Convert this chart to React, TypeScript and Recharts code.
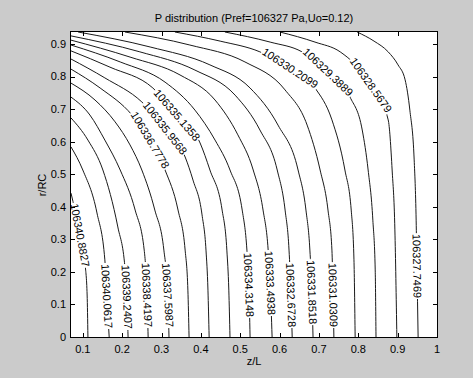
import { LineChart, Line, XAxis, YAxis } from 'recharts'

// axis ticks / ranges
const X_TICKS = [0.1, 0.2, 0.3, 0.4, 0.5, 0.6, 0.7, 0.8, 0.9, 1]
const Y_TICKS = [0, 0.1, 0.2, 0.3, 0.4, 0.5, 0.6, 0.7, 0.8, 0.9]
const Z_MIN = 0.07
const Z_MAX = 1
const R_MIN = 0
const R_MAX = 0.937

// contour levels (left to right at r = 0)
const LEVELS = [
  '106340.8827', '106340.0617', '106339.2407', '106338.4197', '106337.5987',
  '106336.7778', '106335.9568', '106335.1358', '106334.3148', '106333.4938',
  '106332.6728', '106331.8518', '106331.0309', '106330.2099', '106329.3889',
  '106328.5679', '106327.7469',
]

// traced contour paths: z/L values
const CONTOUR_Z = [
  [0.070, 0.080, 0.093, 0.106, 0.111, 0.113],
  [0.070, 0.100, 0.136, 0.156, 0.161, 0.167],
  [0.070, 0.113, 0.151, 0.189, 0.207, 0.212, 0.215],
  [0.070, 0.118, 0.156, 0.195, 0.233, 0.256, 0.263, 0.266],
  [0.070, 0.131, 0.182, 0.220, 0.250, 0.283, 0.306, 0.316, 0.319],
  [0.070, 0.144, 0.225, 0.271, 0.309, 0.342, 0.360, 0.367, 0.370],
  [0.070, 0.156, 0.250, 0.309, 0.360, 0.380, 0.403, 0.413, 0.418, 0.421],
  [0.070, 0.169, 0.278, 0.339, 0.398, 0.423, 0.454, 0.466, 0.471, 0.474],
  [0.070, 0.195, 0.309, 0.385, 0.436, 0.474, 0.505, 0.517, 0.522, 0.525],
  [0.070, 0.220, 0.347, 0.436, 0.494, 0.533, 0.558, 0.571, 0.576, 0.581],
  [0.070, 0.245, 0.385, 0.487, 0.550, 0.594, 0.614, 0.624, 0.629, 0.632],
  [0.088, 0.271, 0.423, 0.525, 0.596, 0.647, 0.667, 0.677, 0.682, 0.685],
  [0.207, 0.372, 0.512, 0.614, 0.670, 0.703, 0.723, 0.733, 0.736, 0.738],
  [0.334, 0.449, 0.550, 0.627, 0.690, 0.733, 0.766, 0.782, 0.789, 0.792],
  [0.461, 0.576, 0.657, 0.723, 0.779, 0.810, 0.825, 0.837, 0.843, 0.845],
  [0.601, 0.690, 0.754, 0.832, 0.876, 0.886, 0.893, 0.898],
  [0.797, 0.840, 0.876, 0.901, 0.919, 0.931, 0.942, 0.947, 0.949, 0.952],
]

// traced contour paths: r/RC values
const CONTOUR_R = [
  [0.442, 0.390, 0.313, 0.221, 0.129, 0],
  [0.584, 0.513, 0.381, 0.237, 0.126, 0],
  [0.673, 0.605, 0.513, 0.338, 0.215, 0.123, 0],
  [0.737, 0.682, 0.605, 0.513, 0.390, 0.267, 0.129, 0],
  [0.780, 0.728, 0.661, 0.590, 0.513, 0.390, 0.267, 0.129, 0],
  [0.823, 0.765, 0.682, 0.605, 0.513, 0.390, 0.267, 0.144, 0],
  [0.854, 0.796, 0.722, 0.642, 0.553, 0.482, 0.375, 0.267, 0.144, 0],
  [0.879, 0.829, 0.765, 0.682, 0.596, 0.513, 0.390, 0.267, 0.144, 0],
  [0.897, 0.845, 0.783, 0.697, 0.605, 0.513, 0.390, 0.267, 0.160, 0],
  [0.912, 0.860, 0.805, 0.728, 0.621, 0.513, 0.390, 0.267, 0.166, 0],
  [0.925, 0.876, 0.820, 0.743, 0.636, 0.513, 0.390, 0.267, 0.129, 0],
  [0.937, 0.891, 0.836, 0.765, 0.651, 0.513, 0.390, 0.267, 0.138, 0],
  [0.937, 0.897, 0.845, 0.759, 0.651, 0.513, 0.390, 0.267, 0.129, 0],
  [0.937, 0.909, 0.876, 0.826, 0.765, 0.667, 0.513, 0.390, 0.237, 0],
  [0.937, 0.906, 0.876, 0.814, 0.737, 0.636, 0.513, 0.359, 0.206, 0],
  [0.937, 0.906, 0.876, 0.774, 0.667, 0.513, 0.329, 0],
  [0.937, 0.909, 0.876, 0.836, 0.790, 0.697, 0.544, 0.359, 0.218, 0],
]

// which point of each contour carries the inline label
const LABEL_AT = [2, 4, 5, 6, 7, 3, 3, 3, 8, 8, 8, 8, 8, 3, 3, 3, 8]

const W = 473
const H = 378
const MARGIN = { top: 32, right: 36, left: 0, bottom: 0 }
const Y_AXIS_W = 71
const X_AXIS_H = 41
const PLOT_W = W - MARGIN.right - Y_AXIS_W
const PLOT_H = H - MARGIN.top - X_AXIS_H
const PLOT_L = Y_AXIS_W
const PLOT_R = Y_AXIS_W + PLOT_W
const PLOT_T = MARGIN.top
const PLOT_B = MARGIN.top + PLOT_H
const PX_Z = PLOT_W / (Z_MAX - Z_MIN)
const PX_R = PLOT_H / (R_MAX - R_MIN)
const TICK = 4

const FONT = '"Liberation Sans", Arial, Helvetica, sans-serif'
const BG = '#cbcbcb'

const series = CONTOUR_Z.map((zs, k) => zs.map((z, i) => ({ z, r: CONTOUR_R[k][i] })))

function makeLabelDot(k: number) {
  return (props: any) => {
    const { cx, cy, index } = props
    if (index !== LABEL_AT[k] || cx == null || cy == null) return <g key={`d${k}-${index}`} />
    const zs = CONTOUR_Z[k]
    const rs = CONTOUR_R[k]
    const a = Math.max(index - 1, 0)
    const b = Math.min(index + 1, zs.length - 1)
    const dx = (zs[b] - zs[a]) * PX_Z
    const dy = -(rs[b] - rs[a]) * PX_R
    let ang = (Math.atan2(dy, dx) * 180) / Math.PI
    if (ang > 90) ang -= 180
    if (ang < -90) ang += 180
    const w = 66
    return (
      <g key={`d${k}-${index}`} transform={`translate(${cx},${cy}) rotate(${ang})`}>
        <rect x={-w / 2} y={-5} width={w} height={10} fill="#fff" />
        <text x={0} y={0} dy="0.35em" textAnchor="middle" fontSize={11} fill="#000" fontFamily={FONT}>
          {LEVELS[k]}
        </text>
      </g>
    )
  }
}

// MATLAB style: ticks point inward on both opposite sides of the box
const XTick = ({ x, payload }: any) => {
  const px = Math.round(x) + 0.5
  return (
    <g>
      <line x1={px} x2={px} y1={PLOT_B} y2={PLOT_B - TICK} stroke="#000" strokeWidth={1} />
      <line x1={px} x2={px} y1={PLOT_T} y2={PLOT_T + TICK} stroke="#000" strokeWidth={1} />
      <text x={x} y={PLOT_B + 16} textAnchor="middle" fontSize={11} fill="#000" fontFamily={FONT}>
        {String(payload.value)}
      </text>
    </g>
  )
}

const YTick = ({ y, payload }: any) => {
  const py = Math.round(y) + 0.5
  return (
    <g>
      <line x1={PLOT_L} x2={PLOT_L + TICK} y1={py} y2={py} stroke="#000" strokeWidth={1} />
      <line x1={PLOT_R} x2={PLOT_R - TICK} y1={py} y2={py} stroke="#000" strokeWidth={1} />
      <text x={PLOT_L - 5} y={y} dy="0.35em" textAnchor="end" fontSize={11} fill="#000" fontFamily={FONT}>
        {String(payload.value)}
      </text>
    </g>
  )
}

export default function App() {
  return (
    <div
      style={{
        position: 'absolute', left: 0, top: 0, width: W, height: H,
        background: BG, fontFamily: FONT, overflow: 'hidden',
      }}
    >
      <div style={{ position: 'absolute', left: 0, top: 12, width: 508, textAlign: 'center', fontSize: 11, lineHeight: '12px', color: '#000' }}>
        P distribution (Pref=106327 Pa,Uo=0.12)
      </div>
      <div style={{ position: 'absolute', left: 0, top: 355, width: 508, textAlign: 'center', fontSize: 11, lineHeight: '12px', color: '#000' }}>
        z/L
      </div>
      <div
        style={{
          position: 'absolute', left: 12, top: 179, width: 60, textAlign: 'center',
          fontSize: 11, lineHeight: '12px', color: '#000', transform: 'rotate(-90deg)',
        }}
      >
        r/RC
      </div>
      <div style={{ position: 'absolute', left: PLOT_L, top: PLOT_T, width: PLOT_W, height: PLOT_H, background: '#fff' }} />
      <LineChart width={W} height={H} margin={MARGIN} style={{ position: 'absolute', left: 0, top: 0 }}>
        {series.map((data, k) => (
          <Line
            key={LEVELS[k]}
            data={data}
            dataKey="r"
            type="monotone"
            stroke="#1a1a1a"
            strokeWidth={1}
            dot={makeLabelDot(k)}
            activeDot={false}
            isAnimationActive={false}
          />
        ))}
        <XAxis
          dataKey="z"
          type="number"
          domain={[Z_MIN, Z_MAX]}
          allowDataOverflow
          ticks={X_TICKS}
          height={X_AXIS_H}
          tickLine={false}
          axisLine={false}
          tick={<XTick />}
        />
        <YAxis
          type="number"
          domain={[R_MIN, R_MAX]}
          allowDataOverflow
          ticks={Y_TICKS}
          width={Y_AXIS_W}
          tickLine={false}
          axisLine={false}
          tick={<YTick />}
        />
      </LineChart>
      <div
        style={{
          position: 'absolute', left: PLOT_L - 1, top: PLOT_T - 1, width: PLOT_W + 2, height: PLOT_H + 2,
          boxSizing: 'border-box', border: '1px solid #000', pointerEvents: 'none',
        }}
      />
    </div>
  )
}
